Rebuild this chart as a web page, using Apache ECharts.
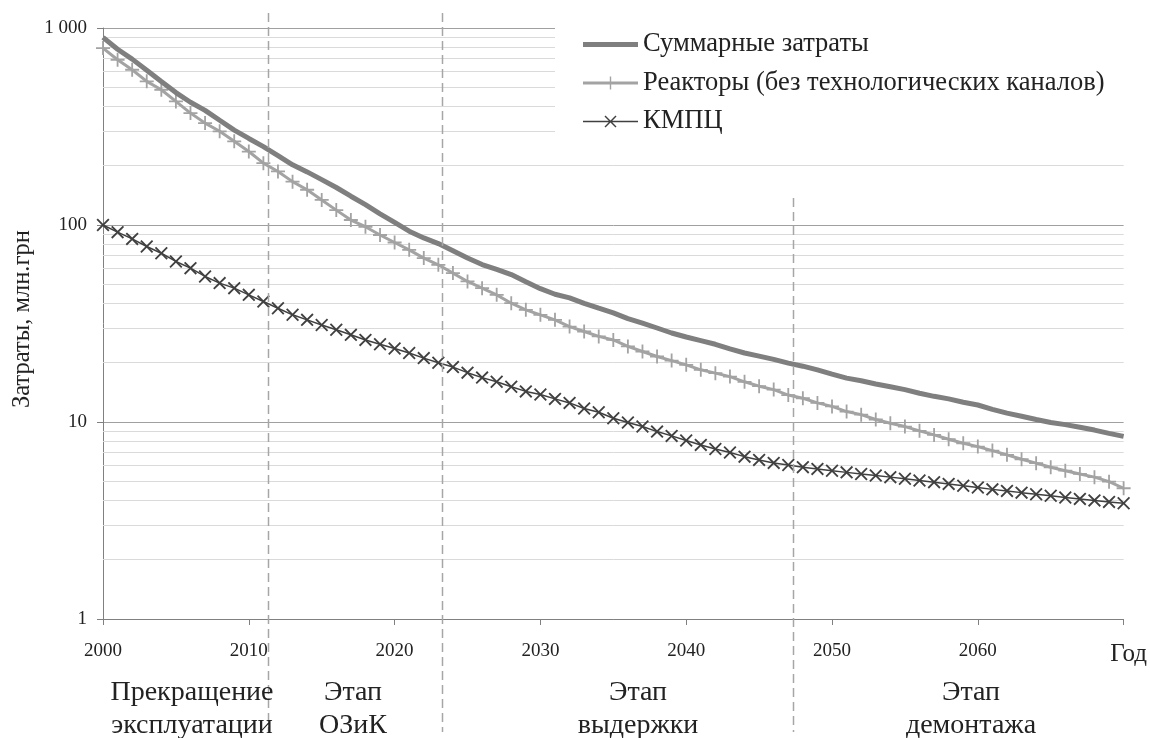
<!DOCTYPE html>
<html>
<head>
<meta charset="utf-8">
<script src="https://cdn.jsdelivr.net/npm/echarts@6/dist/echarts.min.js"></script>
<style>html,body{margin:0;padding:0;background:#fff;}#c{width:1150px;height:738px;}</style>
</head>
<body>
<div id="c"></div>
<script>
// ---- data ----
var years = [];
for (var y = 2000; y <= 2070; y++) years.push(y);

var seriesNames = ['Суммарные затраты', 'Реакторы (без технологических каналов)', 'КМПЦ'];

var totalCost = [
  896, 780, 695, 610, 535, 470, 420, 382, 340, 303,
  275, 250, 225, 202, 186, 170, 155, 140, 127, 114,
  103, 93, 86, 80.5, 74, 68, 63, 59.5, 56, 51.5,
  47.5, 44.5, 42.7, 40, 37.8, 35.8, 33.5, 31.8, 30, 28.3,
  27, 25.9, 24.8, 23.5, 22.4, 21.6, 20.8, 19.9, 19.2, 18.4,
  17.5, 16.7, 16.2, 15.6, 15.1, 14.6, 14.0, 13.5, 13.1, 12.6,
  12.2, 11.6, 11.1, 10.7, 10.3, 9.95, 9.7, 9.4, 9.1, 8.75,
  8.45
];
var reactorCost = [
  791, 690, 614, 536, 486, 424, 370, 329, 299, 266,
  236, 206, 187, 166, 151, 134, 119, 106, 98, 89,
  81.5, 74.8, 67.9, 62.8, 57, 51.7, 47.8, 44.2, 40.1, 37.1,
  35, 33, 30.5, 28.8, 27.2, 26.1, 24.2, 22.8, 21.5, 20.5,
  19.5, 18.4, 17.7, 17.0, 16.0, 15.2, 14.6, 13.7, 13.2, 12.5,
  12.0, 11.3, 10.9, 10.3, 9.86, 9.48, 9.02, 8.6, 8.18, 7.8,
  7.5, 7.16, 6.81, 6.47, 6.18, 5.89, 5.66, 5.45, 5.25, 4.98,
  4.61
];
var kmpcCost = [
  100, 92, 85, 77.8, 71.9, 65.3, 60.4, 54.8, 50.7, 47.8,
  44.2, 40.9, 37.8, 35.0, 33.0, 31.1, 29.4, 27.7, 26.1, 24.8,
  23.6, 22.4, 21.1, 20.0, 19.0, 17.8, 16.8, 16.0, 15.1, 14.3,
  13.8, 13.1, 12.5, 11.7, 11.2, 10.45, 9.94, 9.48, 8.94, 8.5,
  8.05, 7.65, 7.3, 7.0, 6.67, 6.42, 6.2, 6.05, 5.9, 5.78,
  5.66, 5.55, 5.45, 5.35, 5.25, 5.15, 5.05, 4.95, 4.85, 4.75,
  4.65, 4.55, 4.47, 4.38, 4.3, 4.22, 4.14, 4.07, 4.0, 3.93,
  3.87
];

var xTicks = [2000, 2010, 2020, 2030, 2040, 2050, 2060, 2070];
var xLastLabel = 'Год';
var yTicks = [1, 10, 100, 1000];
var yTickLabels = ['1', '10', '100', '1 000'];
var yMinorGrid = [2,3,4,5,6,7,8,9, 20,30,40,50,60,70,80,90, 200,300,400,500,600,700,800,900];
var phaseBounds = [2011.3, 2023.25, 2047.3];
var phaseNames = ['Прекращение\nэксплуатации', 'Этап\nОЗиК', 'Этап\nвыдержки', 'Этап\nдемонтажа'];
var yTitle = 'Затраты, млн.грн';

// ---- layout / style ----
var FONT = '"Liberation Serif", "Times New Roman", serif';
var TXT = '#222';
var phaseLabelX = [192, 353, 638, 971];
var boundTop = [13, 13, 198];

function pairs(arr) { return arr.map(function (v, i) { return [years[i], v]; }); }

var plusPath = 'path://M4.35,0 H5.65 V4.35 H10 V5.65 H5.65 V10 H4.35 V5.65 H0 V4.35 H4.35 Z';
var crossPath = 'path://M0,1 L1,0 L5,4 L9,0 L10,1 L6,5 L10,9 L9,10 L5,6 L1,10 L0,9 L4,5 Z';

// legend icons (55 x 14 box)
var iconTotal = 'path://M0,0 M55,14 M0,4.5 H55 V9.5 H0 Z';
var iconReactor = 'path://M0,0 M55,14 M0,5.5 H55 V8.5 H0 Z M26.8,0.5 H28.2 V13.5 H26.8 Z';
var iconKmpc = 'path://M0,0 M55,14 M0,6.25 H55 V7.75 H0 Z M21.5,2 L22.5,1 L27.5,6 L32.5,1 L33.5,2 L28.5,7 L33.5,12 L32.5,13 L27.5,8 L22.5,13 L21.5,12 L26.5,7 Z';

var chart = echarts.init(document.getElementById('c'), null, {renderer: 'canvas'});

var option = {
  animation: false,
  backgroundColor: '#fff',
  textStyle: {fontFamily: FONT},
  grid: {left: 103, right: 23, top: 28, bottom: 119, containLabel: false},
  legend: {
    orient: 'vertical',
    left: 555, top: 13,
    padding: [18, 45, 10, 28],
    backgroundColor: '#fff',
    z: 10,
    itemWidth: 55, itemHeight: 14, itemGap: 11.5,
    textStyle: {fontFamily: FONT, fontSize: 26.5, color: TXT, lineHeight: 26},
    data: [
      {name: seriesNames[0], icon: iconTotal},
      {name: seriesNames[1], icon: iconReactor},
      {name: seriesNames[2], icon: iconKmpc}
    ]
  },
  xAxis: {
    type: 'value', min: 2000, max: 2070, interval: 10,
    axisLine: {show: true, lineStyle: {color: '#808080', width: 1}},
    axisTick: {show: true, length: 6, lineStyle: {color: '#808080'}},
    splitLine: {show: false},
    axisLabel: {
      margin: 23, color: TXT, fontFamily: FONT, fontSize: 19,
      showMinLabel: true, showMaxLabel: true,
      formatter: function (v) {
        var i = xTicks.indexOf(v);
        if (i === xTicks.length - 1) return '{g|' + xLastLabel + '}';
        return String(v);
      },
      rich: {g: {fontFamily: FONT, fontSize: 25, color: TXT, padding: [0, 0, 0, 10]}}
    }
  },
  yAxis: {
    type: 'log', logBase: 10, min: 1, max: 1000,
    axisLine: {show: true, lineStyle: {color: '#808080', width: 1}},
    axisTick: {show: true, length: 6, lineStyle: {color: '#808080'}},
    splitLine: {show: true, lineStyle: {color: '#a0a0a0', width: 1}},
    axisLabel: {
      margin: 16, color: TXT, fontFamily: FONT, fontSize: 19,
      formatter: function (v) {
        var i = yTicks.indexOf(Math.round(v));
        return i >= 0 ? yTickLabels[i] : '';
      }
    }
  },
  series: [
    {
      name: seriesNames[0], type: 'line', data: pairs(totalCost),
      symbol: 'none', z: 3,
      lineStyle: {color: '#7f7f7f', width: 5},
      itemStyle: {color: '#7f7f7f'},
      markLine: {
        silent: true, symbol: ['none', 'none'], z: 1,
        label: {show: false},
        lineStyle: {color: '#dadada', type: 'solid', width: 1},
        data: yMinorGrid.map(function (v) { return {yAxis: v}; })
      }
    },
    {
      name: seriesNames[1], type: 'line', data: pairs(reactorCost),
      symbol: plusPath, symbolSize: 14, showAllSymbol: true, z: 2,
      lineStyle: {color: '#a3a3a3', width: 3},
      itemStyle: {color: '#a3a3a3'}
    },
    {
      name: seriesNames[2], type: 'line', data: pairs(kmpcCost),
      symbol: crossPath, symbolSize: 13, showAllSymbol: true, z: 4,
      lineStyle: {color: '#404040', width: 1.5},
      itemStyle: {color: '#404040'}
    }
  ]
};
chart.setOption(option);

var graphics = [];
phaseBounds.forEach(function (b, i) {
  var x = Math.round(chart.convertToPixel({xAxisIndex: 0}, b)) + 0.5;
  graphics.push({
    type: 'line', z: 20, silent: true,
    shape: {x1: x, y1: boundTop[i], x2: x, y2: 732},
    style: {stroke: '#a6a6a6', lineWidth: 1.5, lineDash: [9, 5]}
  });
});
phaseNames.forEach(function (t, i) {
  graphics.push({
    type: 'text', z: 21, silent: true,
    x: phaseLabelX[i], y: 676,
    style: {text: t, fill: TXT, font: '28px ' + FONT, textAlign: 'center', textVerticalAlign: 'top', lineHeight: 33}
  });
});
graphics.push({
  type: 'text', z: 21, silent: true,
  x: 23, y: 319, rotation: Math.PI / 2,
  style: {text: yTitle, fill: TXT, font: '24.5px ' + FONT, textAlign: 'center', textVerticalAlign: 'middle'}
});
chart.setOption({graphic: graphics});
</script>
</body>
</html>
